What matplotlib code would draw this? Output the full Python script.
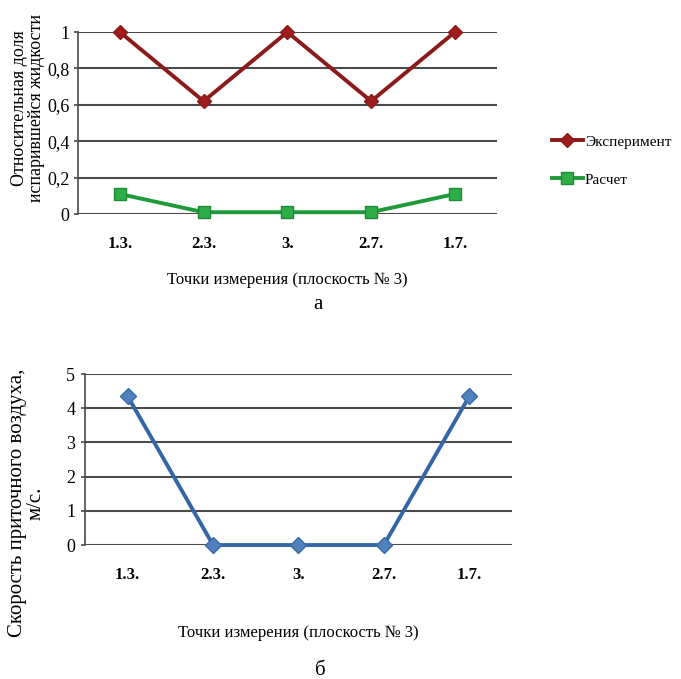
import matplotlib
matplotlib.use("Agg")
import matplotlib.pyplot as plt

plt.rcParams["font.family"] = ["Liberation Serif", "DejaVu Serif"]

POINTS = ["1.3.", "2.3.", "3.", "2.7.", "1.7."]

# relative share of evaporated liquid
EXPERIMENT = [1.0, 0.62, 1.0, 0.62, 1.0]
CALCULATED = [0.11, 0.01, 0.01, 0.01, 0.11]
SHARE_TICKS = [0, 0.2, 0.4, 0.6, 0.8, 1.0]
SHARE_LABELS = ["0", "0,2", "0,4", "0,6", "0,8", "1"]

# supply air velocity, m/s
VELOCITY = [4.35, 0.0, 0.0, 0.0, 4.35]
VELOCITY_TICKS = [0, 1, 2, 3, 4, 5]

XLABEL = "Точки измерения (плоскость № 3)"
GRID_COLOR = "#4a4a4a"


def style_axes(ax, ticks, labels, ymax, pad):
    x = range(len(POINTS))
    ax.set_xlim(-0.5, len(POINTS) - 0.5)
    ax.set_ylim(0, ymax)
    ax.set_xticks(list(x))
    ax.set_xticklabels(POINTS, fontsize=12, fontweight="bold")
    ax.set_yticks(ticks)
    ax.set_yticklabels(labels, fontsize=13)
    ax.tick_params(axis="x", length=0, pad=16)
    ax.tick_params(axis="y", length=3, width=1.2, color=GRID_COLOR, pad=pad)
    ax.yaxis.grid(True, color=GRID_COLOR, linewidth=1.5)
    ax.set_axisbelow(True)
    for side in ("top", "right", "bottom"):
        ax.spines[side].set_visible(False)
    ax.spines["left"].set_color(GRID_COLOR)
    ax.spines["left"].set_linewidth(1.2)
    ax.set_xlabel(XLABEL, fontsize=12, labelpad=14)


fig = plt.figure(figsize=(6.81, 6.79), dpi=100)

# chart a
ax1 = fig.add_axes([0.1145, 0.6848, 0.615, 0.268])
x = range(len(POINTS))
ax1.plot(x, EXPERIMENT, color="#8b1a1a", linewidth=2.8, marker="D",
         markersize=7, markerfacecolor="#a01c1c", markeredgecolor="#8b1a1a",
         label="Эксперимент", clip_on=False, zorder=3)
ax1.plot(x, CALCULATED, color="#1f9a3a", linewidth=2.8, marker="s",
         markersize=9, markerfacecolor="#2eac48", markeredgecolor="#1d8a35",
         label="Расчет", clip_on=False, zorder=3)
style_axes(ax1, SHARE_TICKS, SHARE_LABELS, 1.0, 3)
fig.text(28 / 681, 1 - 108 / 679, "Относительная доля\nиспарившейся жидкости",
         fontsize=13, rotation=90, ha="center", va="center", linespacing=1.0)
fig.legend(loc="upper left", bbox_to_anchor=(552 / 681, 1 - 135 / 679),
           frameon=False, fontsize=11, handlelength=2.0, handletextpad=0.15,
           labelspacing=1.6, borderpad=0, borderaxespad=0)
fig.text(0.467, 0.551, "а", fontsize=15, ha="center", va="center")

# chart b
ax2 = fig.add_axes([0.1248, 0.1973, 0.627, 0.2518])
ax2.plot(x, VELOCITY, color="#3465a4", linewidth=2.8, marker="D",
         markersize=8, markerfacecolor="#4f81bd", markeredgecolor="#3a6aa8",
         clip_on=False, zorder=3)
style_axes(ax2, VELOCITY_TICKS, [str(v) for v in VELOCITY_TICKS], 5, 4)
ax2.xaxis.labelpad = 30
fig.text(27 / 681, 1 - 503 / 679, "Скорость приточного воздуха,\nм/с.",
         fontsize=15, rotation=90, ha="center", va="center", linespacing=0.95)
fig.text(0.47, 0.012, "б", fontsize=15, ha="center", va="center")

fig.savefig("out.png", dpi=100)
